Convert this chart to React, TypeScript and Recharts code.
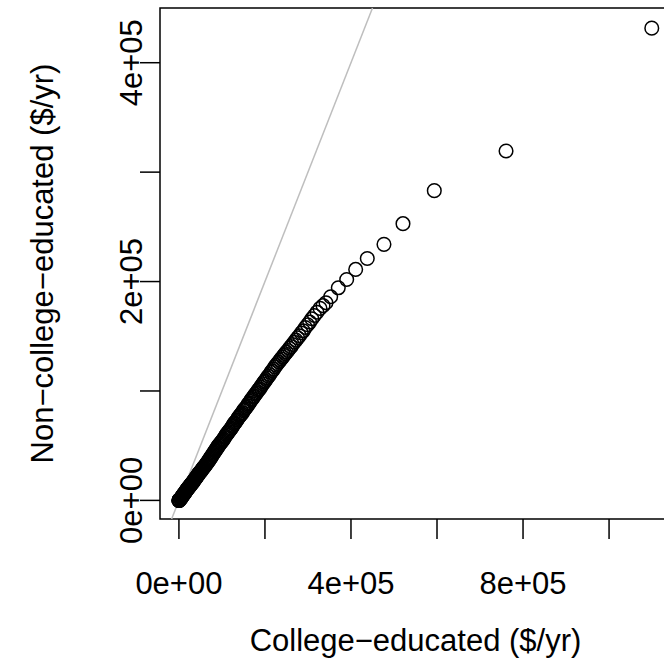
import React from 'react';
import { ScatterChart, Scatter, XAxis, YAxis, ReferenceLine, ReferenceArea } from 'recharts';

// Quantile pairs (sorted incomes)
const collegeIncome = [
  0, 0, 0, 500, 1500, 3000, 4000, 5000, 6000, 7000, 8000, 9000, 10000, 11000, 12000, 13000,
  14000, 15000, 16000, 17000, 18000, 19000, 20000, 21000, 22000, 23000, 24000, 25000, 26000,
  27000, 28000, 29000, 30000, 31500, 33000, 34000, 35000, 36500, 38000, 39500, 40000, 41500,
  43000, 44500, 45000, 47000, 48000, 50000, 51500, 53000, 55000, 56000, 58000, 60000, 61500,
  63000, 65000, 67000, 69000, 70000, 72000, 74000, 75000, 77000, 79000, 80000, 82000, 84000,
  85000, 87000, 89000, 90000, 92000, 94000, 96000, 98000, 100000, 102000, 104000, 106000,
  108000, 110000, 112000, 114000, 116000, 118000, 120000, 122000, 124000, 126000, 128000,
  130000, 132500, 135000, 137000, 139000, 141000, 143000, 145000, 147500, 150000, 152000,
  154000, 156500, 159000, 161000, 163500, 166000, 168000, 170500, 173000, 175000, 177500,
  180000, 182500, 185000, 187500, 190000, 192500, 195000, 197500, 200000, 202500, 205000,
  208000, 211000, 214000, 217000, 220000, 223000, 226000,
  229000, 232000, 235000, 238000, 241000, 244000, 247000, 250000, 253500, 257000, 260500,
  264000, 268000, 272000, 276000, 280000, 284500, 289000, 294000, 299000, 304000, 309000,
  315000, 321000, 328000, 335000,
  341900, 352800, 370500, 390000, 410900, 437900, 476700, 520900, 593700, 760500, 1099300,
];

const nonCollegeIncome = [
  0, 0, 0, 0, 200, 1000, 1600, 2200, 2800, 3400, 4000, 4600, 5000, 5600, 6000, 6600,
  7200, 7800, 8300, 9000, 9500, 10000, 10500, 11000, 11600, 12000, 12500, 13000, 13600,
  14000, 14600, 15000, 15600, 16200, 17000, 17600, 18200, 19000, 19800, 20500, 21000, 21800,
  22500, 23200, 24000, 24800, 25500, 26000, 27000, 27800, 28800, 29500, 30400, 31200, 32000,
  33000, 34000, 35000, 36000, 37000, 38000, 39000, 40000, 41000, 42000, 43000, 44000, 45000,
  46000, 47000, 48000, 49000, 50000, 51000, 52000, 53000, 54000, 55000, 56000, 57500,
  58500, 60000, 61000, 62000, 63000, 64000, 65000, 66000, 67500, 68500, 70000,
  71000, 72000, 73500, 75000, 76000, 77000, 78000, 79000, 80000, 82000, 83000,
  84000, 85000, 86500, 88000, 89000, 90500, 92000, 93000, 94500, 95500, 97000,
  98000, 99500, 101000, 102000, 103500, 105000, 106500, 108000, 109000, 110500, 112000,
  113500, 115000, 117000, 118500, 120000, 122000, 123500,
  125000, 126500, 128000, 129500, 131000, 132500, 134000, 135500, 137000, 139000, 140500,
  142500, 144500, 146500, 148500, 150500, 153000, 155000, 158000, 160500, 163000, 166000,
  169000, 172000, 175500, 178000,
  180600, 186100, 194300, 201900, 211100, 221100, 234000, 252900, 283100, 319300, 431600,
];

const xTicks = [0, 200000, 400000, 600000, 800000, 1000000];
const xTickLabels = ['0e+00', '', '4e+05', '', '8e+05', ''];
const yTicks = [0, 100000, 200000, 300000, 400000];
const yTickLabels = ['0e+00', '', '2e+05', '', '4e+05'];
const xDomain = [-44000, 1144000];
const yDomain = [-17000, 450000];
const xTitle = 'College\u2212educated ($/yr)';
const yTitle = 'Non\u2212college\u2212educated ($/yr)';

const FONT = '"Liberation Sans", Arial, Helvetica, sans-serif';
const FS = 31;

const points = collegeIncome.map((x, i) => ({ x, y: nonCollegeIncome[i] }));

const Ring = (props: any) => {
  const { cx, cy } = props;
  if (cx == null || cy == null) return null;
  return <circle cx={cx} cy={cy} r={6.8} fill="none" stroke="#000" strokeWidth={1.5} />;
};

const XTick = (props: any) => {
  const { x, payload } = props;
  const idx = xTicks.indexOf(payload.value);
  const label = idx >= 0 ? xTickLabels[idx] : '';
  if (!label) return null;
  return (
    <text x={x} y={594} textAnchor="middle" fontFamily={FONT} fontSize={FS} fill="#000">
      {label}
    </text>
  );
};

const YTick = (props: any) => {
  const { y, payload } = props;
  const idx = yTicks.indexOf(payload.value);
  const label = idx >= 0 ? yTickLabels[idx] : '';
  if (!label) return null;
  return (
    <text
      x={0}
      y={0}
      transform={`translate(142, ${y}) rotate(-90)`}
      textAnchor="middle"
      fontFamily={FONT}
      fontSize={FS}
      fill="#000"
    >
      {label}
    </text>
  );
};

export default function App() {
  return (
    <div style={{ position: 'absolute', left: 0, top: 0, width: 664, height: 670, overflow: 'hidden', background: '#fff' }}>
      <ScatterChart width={700} height={670} margin={{ top: 8, right: 29, bottom: 0, left: 0 }}>
        <XAxis
          type="number"
          dataKey="x"
          domain={xDomain}
          ticks={xTicks}
          allowDataOverflow
          height={151}
          axisLine={false}
          tickLine={{ stroke: '#000', strokeWidth: 1.5 }}
          tickSize={20}
          tick={<XTick />}
          interval={0}
        />
        <YAxis
          type="number"
          dataKey="y"
          domain={yDomain}
          ticks={yTicks}
          allowDataOverflow
          width={160}
          axisLine={false}
          tickLine={{ stroke: '#000', strokeWidth: 1.5 }}
          tickSize={20}
          tick={<YTick />}
          interval={0}
        />
        <ReferenceArea
          x1={xDomain[0]}
          x2={xDomain[1]}
          y1={yDomain[0]}
          y2={yDomain[1]}
          fill="none"
          stroke="#000"
          strokeWidth={1.5}
          ifOverflow="visible"
        />
        <Scatter data={points} shape={<Ring />} isAnimationActive={false} />
        <ReferenceLine
          segment={[
            { x: yDomain[0], y: yDomain[0] },
            { x: yDomain[1], y: yDomain[1] },
          ]}
          stroke="#bebebe"
          strokeWidth={1.5}
          ifOverflow="visible"
        />
        <text x={415.5} y={651} textAnchor="middle" fontFamily={FONT} fontSize={FS} fill="#000">
          {xTitle}
        </text>
        <text
          x={0}
          y={0}
          transform="translate(53, 263.5) rotate(-90)"
          textAnchor="middle"
          fontFamily={FONT}
          fontSize={FS}
          fill="#000"
        >
          {yTitle}
        </text>
      </ScatterChart>
    </div>
  );
}
